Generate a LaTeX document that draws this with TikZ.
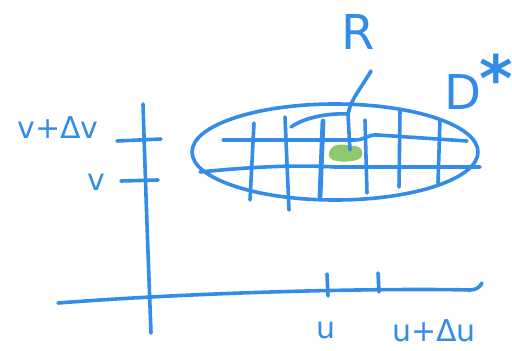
\documentclass[tikz,border=0pt]{standalone}
\usepackage{fontspec}
\setsansfont{DejaVu Sans}
\definecolor{pen}{RGB}{52,140,234}
\definecolor{hl}{RGB}{125,190,85}
\tikzset{
  ink/.style={draw=pen, line width=3.6pt, line cap=round, line join=round},
  lab/.style={text=pen, font=\sffamily\fontsize{30}{30}\selectfont, inner sep=0pt},
  biglab/.style={text=pen, font=\sffamily\fontsize{48}{48}\selectfont, inner sep=0pt}
}
\begin{document}
\begin{tikzpicture}[x=1pt,y=-1pt]
\useasboundingbox (0,0) rectangle (512,351);
% axes
\draw[ink] (143,104) .. controls (146,200) and (149,280) .. (151,333);
\draw[ink] (58,303) .. controls (200,292) and (380,288) .. (470,290) .. controls (476,290) and (480,287) .. (482,283);
% v ticks
\draw[ink] (117,141) -- (161,139);
\draw[ink] (121,181) -- (158,180);
% u ticks
\draw[ink] (327,274) -- (328,296);
\draw[ink] (378,273) -- (379,292);
% labels
\node[lab] (vdv) at (58,128) {v+Δv};
\node[lab] (v) at (96,182) {v};
\node[lab] (u) at (326,330) {u};
\node[lab] (udu) at (434,331) {u+Δu};
\node[biglab] (R) at (358,32) {R};
\node[biglab] (D) at (463,92) {D};
\node[text=pen, font=\sffamily\bfseries\fontsize{64}{64}\selectfont, inner sep=0pt] (star) at (496,78) {*};
% green region
\fill[hl, opacity=0.85] (330,150) .. controls (334,143) and (344,144) .. (350,146) .. controls (358,145) and (364,148) .. (362,156) .. controls (360,162) and (340,163) .. (333,160) .. controls (328,158) and (328,154) .. (330,150) -- cycle;
% ellipse
\draw[ink] (335,152) ellipse [x radius=143, y radius=48];
% grid horizontals
\draw[ink] (223,140) -- (355,140) .. controls (365,140) and (368,134) .. (378,135) -- (467,141);
\draw[ink] (200,172) .. controls (260,166) and (300,165) .. (335,167) -- (480,167);
% grid verticals
\draw[ink] (254,123) -- (250,200);
\draw[ink] (285,117) -- (289,210);
\draw[ink, line width=4.8pt] (323,121) -- (320,197);
\draw[ink] (365,120) -- (367,193);
\draw[ink] (400,110) -- (399,187);
\draw[ink] (440,120) -- (438,183);
% pointer from R
\coordinate (rtip) at (350,150);
\draw[ink] (371,71) .. controls (360,90) and (350,100) .. (348,115) -- (rtip);
\draw[ink] (291,127) .. controls (305,117) and (330,113) .. (347,114);
\end{tikzpicture}
\end{document}
